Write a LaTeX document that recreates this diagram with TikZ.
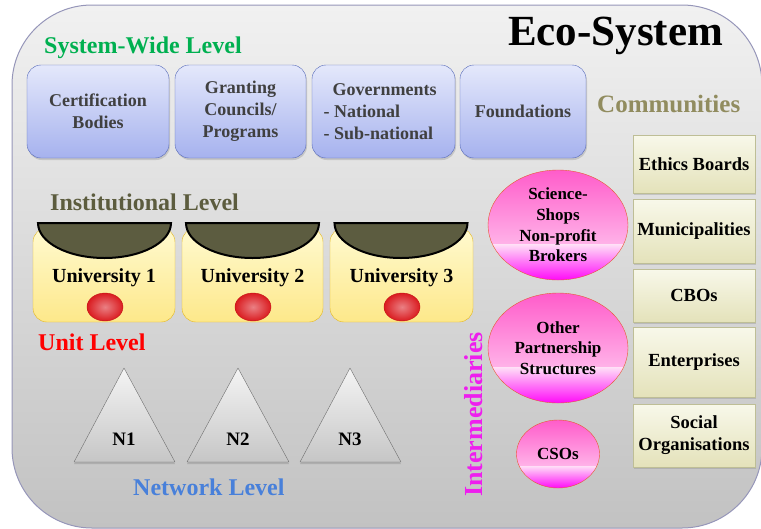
\documentclass[tikz,border=0pt]{standalone}
\usepackage{fontspec}
\setmainfont{Liberation Serif}
\usetikzlibrary{shapes.geometric,shadows,calc}
\definecolor{framedraw}{RGB}{150,150,185}
\definecolor{frametop}{RGB}{241,241,241}
\definecolor{framebot}{RGB}{194,194,194}
\definecolor{sysdraw}{RGB}{85,105,185}
\definecolor{systop}{RGB}{228,232,251}
\definecolor{sysbot}{RGB}{166,178,238}
\definecolor{systext}{RGB}{64,64,64}
\definecolor{unidraw}{RGB}{228,182,30}
\definecolor{unitop}{RGB}{255,250,208}
\definecolor{unibot}{RGB}{253,232,138}
\definecolor{bowlfill}{RGB}{92,92,64}
\definecolor{dotin}{RGB}{234,128,132}
\definecolor{dotout}{RGB}{218,28,32}
\definecolor{dotdraw}{RGB}{195,20,20}
\definecolor{tridraw}{RGB}{110,110,110}
\definecolor{tritop}{RGB}{244,244,244}
\definecolor{tribot}{RGB}{198,198,198}
\definecolor{interdraw}{RGB}{230,90,50}
\definecolor{intertop}{RGB}{255,92,202}
\definecolor{intermid}{RGB}{255,170,228}
\definecolor{interlight}{RGB}{255,220,247}
\definecolor{interbot}{RGB}{255,10,248}
\definecolor{commdraw}{RGB}{190,190,150}
\definecolor{commtop}{RGB}{248,248,234}
\definecolor{commbot}{RGB}{228,226,186}
\definecolor{swgreen}{RGB}{0,176,80}
\definecolor{commolive}{RGB}{145,140,95}
\definecolor{instolive}{RGB}{92,92,62}
\definecolor{netblue}{RGB}{72,128,218}
\definecolor{intermag}{RGB}{238,30,238}

\begin{document}
\begin{tikzpicture}[x=1pt,y=-1pt,
	frame/.style={draw=framedraw, line width=1pt, rounded corners=80pt, top color=frametop, bottom color=framebot},
	title/.style={anchor=base west, inner sep=0pt, font=\bfseries},
	sysbox/.style={draw=sysdraw, rounded corners=14pt, top color=systop, bottom color=sysbot,
		minimum height=93pt, inner sep=0pt, align=center, text=systext,
		font=\fontsize{18}{22}\selectfont\bfseries,
		drop shadow={opacity=0.3, shadow xshift=1pt, shadow yshift=-2pt}},
	unibox/.style={draw=unidraw, rounded corners=14pt, top color=unitop, bottom color=unibot,
		minimum height=94pt, inner sep=0pt, font=\fontsize{20}{24}\selectfont\bfseries},
	bowl/.style={draw=black, line width=2pt, fill=bowlfill},
	unit/.style={ellipse, draw=dotdraw, inner color=dotin, outer color=dotout,
		minimum width=36pt, minimum height=28pt, inner sep=0pt},
	tri/.style={draw=tridraw, top color=tritop, bottom color=tribot, line join=round,
		drop shadow={opacity=0.35, shadow xshift=0pt, shadow yshift=-2pt}},
	trilabel/.style={inner sep=0pt, font=\fontsize{19}{22}\selectfont\bfseries},
	inter/.style={ellipse, draw=interdraw,
		path picture={
			\shade[top color=intertop, middle color=intermid, bottom color=interlight] (path picture bounding box.north west)
				rectangle ($(path picture bounding box.south east)!0.32!(path picture bounding box.north east)$);
			\shade[top color=interlight, bottom color=interbot] (path picture bounding box.south west)
				rectangle ($(path picture bounding box.south east)!0.32!(path picture bounding box.north east)$);},
		inner xsep=0pt, inner ysep=-5pt, align=center, font=\fontsize{17}{20.7}\selectfont\bfseries},
	comm/.style={draw=commdraw, top color=commtop, bottom color=commbot, minimum width=122pt,
		inner sep=0pt, align=center, font=\fontsize{18.5}{22}\selectfont\bfseries,
		drop shadow={opacity=0.3, shadow xshift=1pt, shadow yshift=-2pt}}]
\useasboundingbox (0,0) rectangle (761,528);
\path[frame] (12,5) rectangle (762,528);

\node[title, font=\fontsize{43}{46}\selectfont\bfseries] (eco) at (508,45) {Eco-System};
\node[title, text=swgreen, font=\fontsize{24}{26}\selectfont\bfseries] (sw) at (44,53) {System-Wide Level};
\node[title, text=commolive, font=\fontsize{25}{27}\selectfont\bfseries] (comm) at (597,112) {Communities};
\node[title, text=instolive, font=\fontsize{24}{26}\selectfont\bfseries] (inst) at (50,210) {Institutional Level};
\node[title, text=red, font=\fontsize{24}{26}\selectfont\bfseries] (unitlev) at (38,350) {Unit Level};
\node[title, text=netblue, font=\fontsize{24}{26}\selectfont\bfseries] (net) at (133,495) {Network Level};
\node[title, text=intermag, rotate=90, font=\fontsize{26}{28}\selectfont\bfseries] (interlev) at (482,497) {Intermediaries};

\node[sysbox, minimum width=142pt] (cert) at (98,111.5) {Certification\\Bodies};
\node[sysbox, minimum width=131pt] (grant) at (240.5,111.5) {Granting\\Councils/\\Programs};
\node[sysbox, minimum width=143pt, align=left] (gov) at (383.5,111.5) {\hspace*{9pt}Governments\\- National\\- Sub-national\hspace*{10pt}};
\node[sysbox, minimum width=126pt] (found) at (523,111.5) {Foundations};

\node[unibox, minimum width=142pt] (u1) at (104,275) {\rule{0pt}{20pt}University 1};
\node[unibox, minimum width=141pt] (u2) at (252.5,275) {\rule{0pt}{20pt}University 2};
\node[unibox, minimum width=143pt] (u3) at (401.5,275) {\rule{0pt}{20pt}University 3};
\foreach \x in {104.5,252.5,401}
	\draw[bowl] (\x-66.5,223) -- (\x+66.5,223) arc[start angle=0, end angle=180, x radius=66.5, y radius=35] -- cycle;
\node[unit] (d1) at (105,307) {};
\node[unit] (d2) at (253,307) {};
\node[unit] (d3) at (402,307) {};

\draw[tri] (124,368) -- (175,462) -- (74,462) -- cycle;
\draw[tri] (238,368) -- (289,462) -- (187,462) -- cycle;
\draw[tri] (350,368) -- (401,462) -- (300,462) -- cycle;
\node[trilabel] (n1) at (124,439) {N1};
\node[trilabel] (n2) at (238,439) {N2};
\node[trilabel] (n3) at (350,439) {N3};

\node[inter, minimum width=140pt, minimum height=110pt] (shops) at (558,225) {Science-\\Shops\\Non-profit\\Brokers};
\node[inter, minimum width=140pt, minimum height=110pt] (other) at (558,348) {Other\\Partnership\\Structures};
\node[inter, minimum width=83pt, minimum height=68pt] (cso) at (558,454) {CSOs};

\node[comm, minimum height=58pt] (ethics) at (694,164) {Ethics Boards};
\node[comm, minimum height=64pt] (muni) at (694,231) {Municipalities};
\node[comm, minimum height=53pt] (cbo) at (694,295.5) {CBOs};
\node[comm, minimum height=70pt] (ent) at (694,362) {Enterprises};
\node[comm, minimum height=63pt] (social) at (694,435.5) {Social\\Organisations};
\end{tikzpicture}
\end{document}
